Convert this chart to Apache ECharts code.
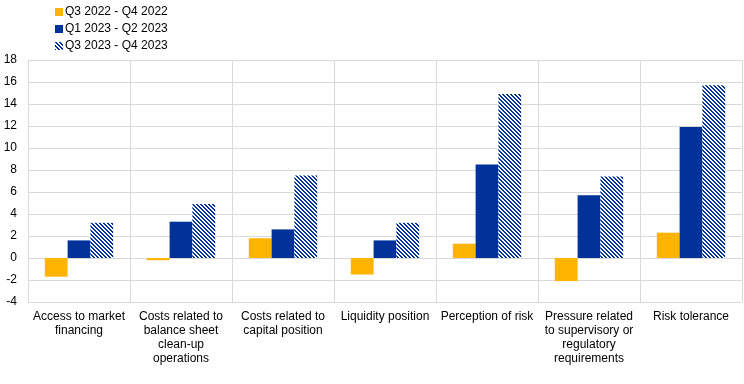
<!DOCTYPE html>
<html><head><meta charset="utf-8">
<script src="https://cdn.jsdelivr.net/npm/echarts@6/dist/echarts.min.js"></script>
<style>html,body{margin:0;padding:0;background:#fff}#c{width:744px;height:384px}</style>
</head><body><div id="c"></div>
<script>
const categories = ["Access to market\nfinancing", "Costs related to\nbalance sheet\nclean-up\noperations", "Costs related to\ncapital position", "Liquidity position", "Perception of risk", "Pressure related\nto supervisory or\nregulatory\nrequirements", "Risk tolerance"];
const seriesNames = ["Q3 2022 - Q4 2022", "Q1 2023 - Q2 2023", "Q3 2023 - Q4 2023"];
const s1 = [-1.7, -0.2, 1.8, -1.5, 1.3, -2.1, 2.3];
const s2 = [1.6, 3.3, 2.6, 1.6, 8.5, 5.7, 11.9];
const s3 = [3.2, 4.9, 7.5, 3.2, 14.9, 7.4, 15.7];
const yTicks = {min: -4, max: 18, interval: 2};

function stripe() {
  const c = document.createElement('canvas');
  c.width = 4; c.height = 4;
  const g = c.getContext('2d');
  g.fillStyle = '#fff'; g.fillRect(0, 0, 4, 4);
  g.fillStyle = '#003299';
  for (let i = 0; i < 4; i++) {
    g.fillRect(i, i, 1, 1);
    g.fillRect((i + 1) % 4, i, 1, 1);
  }
  return c;
}
const pat = {image: stripe(), repeat: 'repeat'};

const chart = echarts.init(document.getElementById('c'), null, {renderer: 'canvas'});
const font = 'Liberation Sans, Arial, sans-serif';
chart.setOption({
  animation: false,
  textStyle: {fontFamily: font},
  legend: {
    left: 50, top: 1, orient: 'vertical', itemGap: 5,
    itemWidth: 8, itemHeight: 8, icon: 'rect',
    textStyle: {fontSize: 12, color: '#000', fontFamily: font, padding: [0,0,0,-3]},
    data: seriesNames
  },
  grid: {left: 28, right: 2, top: 60, bottom: 82},
  xAxis: {
    type: 'category', data: categories,
    axisLine: {onZero: false, show: false},
    axisTick: {show: false},
    splitLine: {show: true, lineStyle: {color: '#d9d9d9', width: 1}},
    axisLabel: {interval: 0, fontSize: 12, color: '#000', lineHeight: 14, margin: 8, fontFamily: font}
  },
  yAxis: {
    type: 'value', min: yTicks.min, max: yTicks.max, interval: yTicks.interval,
    axisLine: {show: false}, axisTick: {show: false},
    splitLine: {lineStyle: {color: '#d9d9d9', width: 1}},
    axisLabel: {fontSize: 12, color: '#000', margin: 11, fontFamily: font}
  },
  series: [
    {name: seriesNames[0], type: 'bar', data: s1, barGap: '0%', barCategoryGap: '33%', itemStyle: {color: '#FFB400'}},
    {name: seriesNames[1], type: 'bar', data: s2, barGap: '0%', barCategoryGap: '33%', itemStyle: {color: '#003299'}},
    {name: seriesNames[2], type: 'bar', data: s3, barGap: '0%', barCategoryGap: '33%', itemStyle: {color: pat}}
  ]
});
</script></body></html>
